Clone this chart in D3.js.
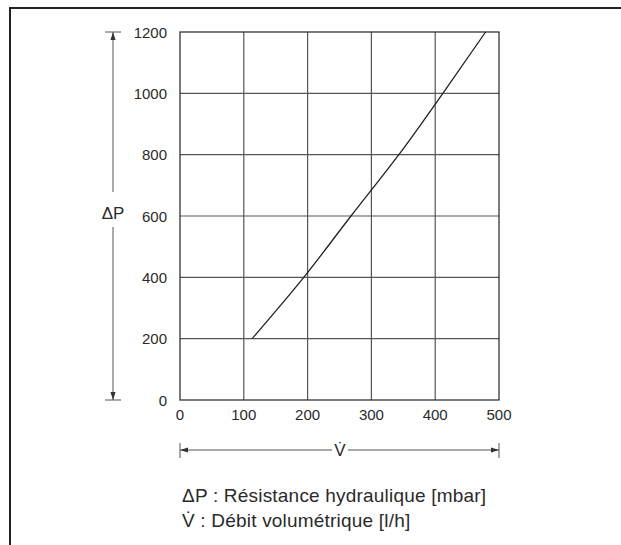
<!DOCTYPE html>
<html>
<head>
<meta charset="utf-8">
<script src="https://cdn.jsdelivr.net/npm/d3@7"></script>
<style>
  body { margin: 0; background: #fff; }
  svg text { font-family: "Liberation Sans", Arial, sans-serif; fill: #2a2a2a; }
</style>
</head>
<body>
<div id="chart"></div>
<script>
// data
var flowTicks = [0, 100, 200, 300, 400, 500];
var pressureTicks = [0, 200, 400, 600, 800, 1000, 1200];
var curveFlow = [113, 194, 268, 343, 412, 479];
var curvePressure = [200, 400, 600, 800, 1000, 1200];
var legendLines = ["\u0394P : R\u00e9sistance hydraulique [mbar]", "V\u0307 : D\u00e9bit volum\u00e9trique [l/h]"];

var width = 621, height = 545;
var plot = { left: 180, right: 499, top: 32, bottom: 400 };

var svg = d3.select("#chart").append("svg")
    .attr("width", width)
    .attr("height", height);

// frame (top + left only, rest is cropped)
svg.append("path")
    .attr("d", "M10,545 V8 H621")
    .attr("fill", "none")
    .attr("stroke", "#222")
    .attr("stroke-width", 2);

var x = d3.scaleLinear().domain([0, 500]).range([plot.left, plot.right]);
var y = d3.scaleLinear().domain([0, 1200]).range([plot.bottom, plot.top]);

// grid
svg.selectAll(".vgrid")
    .data(flowTicks.slice(1, -1))
    .enter().append("line")
    .attr("class", "vgrid")
    .attr("x1", d => x(d)).attr("x2", d => x(d))
    .attr("y1", plot.top).attr("y2", plot.bottom)
    .attr("stroke", "#555").attr("stroke-width", 1.2);

svg.selectAll(".hgrid")
    .data(pressureTicks.slice(1, -1))
    .enter().append("line")
    .attr("class", "hgrid")
    .attr("x1", plot.left).attr("x2", plot.right)
    .attr("y1", d => y(d)).attr("y2", d => y(d))
    .attr("stroke", "#555").attr("stroke-width", 1.2);

svg.append("rect")
    .attr("x", plot.left).attr("y", plot.top)
    .attr("width", plot.right - plot.left)
    .attr("height", plot.bottom - plot.top)
    .attr("fill", "none")
    .attr("stroke", "#222").attr("stroke-width", 1.2);

// tick labels
svg.selectAll(".ylab")
    .data(pressureTicks)
    .enter().append("text")
    .attr("class", "ylab")
    .attr("x", 167)
    .attr("y", d => y(d) + 5.5)
    .attr("text-anchor", "end")
    .style("font-size", "15px")
    .text(d => d);

svg.selectAll(".xlab")
    .data(flowTicks)
    .enter().append("text")
    .attr("class", "xlab")
    .attr("x", d => x(d))
    .attr("y", 420)
    .attr("text-anchor", "middle")
    .style("font-size", "15px")
    .text(d => d);

// curve
var line = d3.line()
    .x(d => x(d[0]))
    .y(d => y(d[1]))
    .curve(d3.curveMonotoneY);

svg.append("path")
    .datum(d3.zip(curveFlow, curvePressure))
    .attr("d", line)
    .attr("fill", "none")
    .attr("stroke", "#222")
    .attr("stroke-width", 1.3);

// arrow markers
var defs = svg.append("defs");
defs.append("marker")
    .attr("id", "arrow")
    .attr("viewBox", "0 0 10 10")
    .attr("refX", 10).attr("refY", 5)
    .attr("markerWidth", 8).attr("markerHeight", 8)
    .attr("markerUnits", "userSpaceOnUse")
    .attr("orient", "auto")
    .append("path")
    .attr("d", "M0,1.8 L10,5 L0,8.2 Z")
    .attr("fill", "#333");

// ΔP dimension line
var dimX = 113;
svg.append("line")
    .attr("x1", dimX).attr("x2", dimX)
    .attr("y1", 192).attr("y2", plot.top)
    .attr("stroke", "#555").attr("marker-end", "url(#arrow)");
svg.append("line")
    .attr("x1", dimX).attr("x2", dimX)
    .attr("y1", 227).attr("y2", plot.bottom)
    .attr("stroke", "#555").attr("marker-end", "url(#arrow)");
svg.selectAll(".ytick")
    .data([plot.top, plot.bottom])
    .enter().append("line")
    .attr("x1", dimX - 8).attr("x2", dimX + 8)
    .attr("y1", d => d).attr("y2", d => d)
    .attr("stroke", "#555");
svg.append("text")
    .attr("x", dimX).attr("y", 219)
    .attr("text-anchor", "middle")
    .style("font-size", "17px")
    .text("\u0394P");

// V̇ dimension line
var dimY = 450;
svg.append("line")
    .attr("x1", 332).attr("x2", plot.left)
    .attr("y1", dimY).attr("y2", dimY)
    .attr("stroke", "#555").attr("marker-end", "url(#arrow)");
svg.append("line")
    .attr("x1", 348).attr("x2", plot.right)
    .attr("y1", dimY).attr("y2", dimY)
    .attr("stroke", "#555").attr("marker-end", "url(#arrow)");
svg.selectAll(".xtick")
    .data([plot.left, plot.right])
    .enter().append("line")
    .attr("x1", d => d).attr("x2", d => d)
    .attr("y1", dimY - 7).attr("y2", dimY + 8)
    .attr("stroke", "#555");
svg.append("text")
    .attr("x", 340).attr("y", dimY + 6)
    .attr("text-anchor", "middle")
    .style("font-size", "17px")
    .text("V\u0307");

// legend
svg.selectAll(".legend")
    .data(legendLines)
    .enter().append("text")
    .attr("class", "legend")
    .attr("x", 182)
    .attr("y", (d, i) => 502 + i * 25)
    .style("font-size", "19px")
    .style("letter-spacing", "0.2px")
    .text(d => d);
</script>
</body>
</html>
